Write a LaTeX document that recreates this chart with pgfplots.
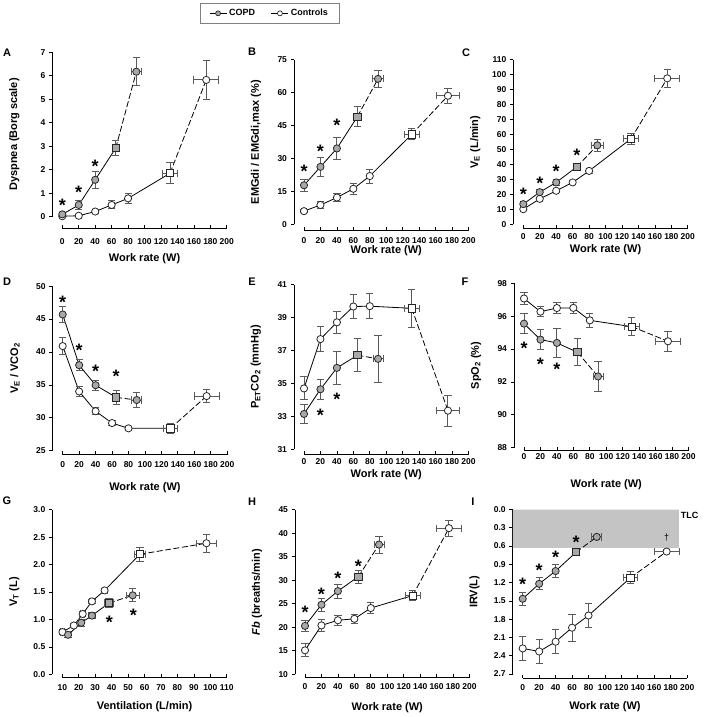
\documentclass[border=0pt]{standalone}
\usepackage{pgfplots}
\pgfplotsset{compat=1.18}
\usepackage{fontspec}
\setmainfont{Liberation Sans}
\definecolor{copd}{HTML}{A8A8A8}
\definecolor{errc}{HTML}{5A5A5A}
\definecolor{shade}{HTML}{C4C4C4}
\newcommand{\sub}[1]{\textsubscript{#1}}
\newcommand{\fs}[1]{\fontsize{#1}{#1}\selectfont}
\pgfplotsset{
  panel/.style={
    scale only axis, width=164.5pt, height=164.5pt, anchor=south west,
    axis x line=bottom, axis y line=left,
    axis line style={-, line width=0.75pt, black},
    every outer x axis line/.append style={-},
    every outer y axis line/.append style={-},
    xtick align=inside, ytick align=outside,
    major tick length=3.5pt,
    every tick/.style={line width=0.75pt, black},
    axis y line shift=10pt,
    tick label style={font=\bfseries\fs{8.5}},
    xticklabel style={inner sep=0pt, anchor=center},
    label style={font=\bfseries\fs{11}, inner sep=0pt},
    ylabel style={at={(axis description cs:-0.26,0.5)}, anchor=south},
    clip=false,
    xmin=0, xmax=200, xtick={0,20,...,200},
    xticklabels={0,20,40,60,80,100,120,140,160,180,200},
    xlabel={Work rate (W)},
  },
  xpos/.style n args={3}{axis x line shift=#1pt, xticklabel style={yshift=-#2pt},
     xlabel style={at={(axis description cs:0.5,0)}, anchor=center, yshift=-#3pt}},
  lineS/.style={black, line width=0.8pt, mark=none, forget plot},
  lineD/.style={black, line width=0.8pt, mark=none, dash pattern=on 6pt off 2.5pt, forget plot},
  pts/.style={only marks, mark=*, mark size=3.6pt, forget plot,
     mark options={draw=black!85, line width=0.8pt, fill=#1},
     error bars/x dir=both, error bars/x explicit, error bars/y dir=both, error bars/y explicit,
     error bars/error bar style={errc, line width=0.9pt},
     error bars/error mark options={rotate=90, errc, line width=0.9pt, mark size=3.6pt}},
  sqs/.style={pts=#1, mark=square*},
  stars/.style={draw=none, mark=none, forget plot, nodes near coords={*},
     every node near coord/.style={anchor=center, inner sep=0pt, font=\bfseries\fs{18}, yshift=-3.8pt, text=black}},
}
\newcommand{\grp}[4]{%
  \addplot[lineS] coordinates {#2 #3};
  \addplot[lineD] coordinates {#3 #4};
  \addplot[pts=#1] coordinates {#2 #4};
  \addplot[sqs=#1] coordinates {#3};
}
\begin{document}
\begin{tikzpicture}
\path[use as bounding box] (0pt,0pt) rectangle (706pt,717pt);
% ---------------- A
\begin{axis}[panel, at={(62.3pt,500.3pt)}, xpos={12}{12.5}{42},
  ymin=0, ymax=7, ytick={0,1,2,3,4,5,6,7}, yticklabels={0,1,2,3,4,5,6,7},
  ylabel={Dyspnea (Borg scale)}]
\grp{white}{(0,0.02)+-(0,0.03) (20,0.04)+-(0,0.04) (40,0.22)+-(0,0.08) (60,0.5)+-(0,0.17) (80,0.78)+-(0,0.22)}{(131,1.85)+-(9,0.45)}{(175,5.82)+-(15,0.85)}
\grp{copd}{(0,0.1)+-(0,0.05) (20,0.5)+-(0,0.2) (40,1.57)+-(0,0.37)}{(65,2.92)+-(4,0.33)}{(90,6.17)+-(6,0.6)}
\addplot[stars] coordinates {(0,0.64) (20,1.2) (40,2.32)};
\end{axis}
% ---------------- B
\begin{axis}[panel, at={(304pt,492.7pt)}, xpos={6}{10.4}{26.4},
  ymin=0, ymax=75, ytick={0,15,30,45,60,75}, yticklabels={0,15,30,45,60,75},
  ylabel={EMGdi / EMGdi,max (\%)},
  legend style={at={(-0.2097,1.345)}, anchor=north, legend columns=2, draw=gray, line width=0.6pt,
     font=\bfseries\fs{9}, inner xsep=9pt, inner ysep=4pt, /tikz/every even column/.append style={column sep=14pt}}]
\addlegendimage{black, line width=0.8pt, mark=*, mark size=2.5pt, mark options={draw=black!85, fill=copd, line width=0.7pt}}
\addlegendentry{COPD}
\addlegendimage{black, line width=0.8pt, mark=*, mark size=2.5pt, mark options={draw=black!85, fill=white, line width=0.7pt}}
\addlegendentry{Controls}
\grp{white}{(0,6)+-(0,0.8) (20,8.8)+-(0,1.5) (40,12.2)+-(0,1.8) (60,16.2)+-(0,2.5) (80,22)+-(0,3.2)}{(131,41)+-(9,2.5)}{(175,58.6)+-(14,3.5)}
\grp{copd}{(0,17.8)+-(0,2.6) (20,26.2)+-(0,4.2) (40,34.6)+-(0,4.9)}{(65,49.1)+-(4,4.7)}{(90,66.3)+-(7,3.7)}
\addplot[stars] coordinates {(0,26) (20,35) (40,46.8)};
\end{axis}
% ---------------- C
\begin{axis}[panel, at={(523.3pt,492.7pt)}, xpos={4}{8.4}{25},
  ymin=0, ymax=110, ytick={0,10,20,30,40,50,60,70,80,90,100,110}, yticklabels={0,10,20,30,40,50,60,70,80,90,100,110},
  ylabel={V\sub{E} (L/min)}]
\grp{white}{(0,10.1)+-(0,1) (20,17)+-(0,1) (40,22.4)+-(0,1.2) (60,28)+-(0,1.2) (80,35.7)+-(0,1.5)}{(131,57.2)+-(9,3.5)}{(175,97.6)+-(15,6)}
\grp{copd}{(0,13.5)+-(0,1.5) (20,21.5)+-(0,1.5) (40,28)+-(0,2)}{(65,38.4)+-(4,2.5)}{(90,52.8)+-(7,4)}
\addplot[stars] coordinates {(0,22.7) (20,29.9) (40,37.7) (65,48.5)};
\end{axis}
% ---------------- D
\begin{axis}[panel, at={(62.7pt,266.3pt)}, xpos={4}{10.3}{37.3},
  ymin=25, ymax=50, ytick={25,30,35,40,45,50}, yticklabels={25,30,35,40,45,50},
  ylabel={V\sub{E} / VCO\sub{2}}]
\grp{white}{(0,40.9)+-(0,1.3) (20,34)+-(0,0.8) (40,31)+-(0,0.5) (60,29.2)+-(0,0.4) (80,28.4)+-(0,0.3)}{(131,28.4)+-(9,0.8)}{(175,33.3)+-(15,1.0)}
\grp{copd}{(0,45.7)+-(0,1.2) (20,38)+-(0,0.8) (40,34.95)+-(0,0.8)}{(65,33.1)+-(4,1.0)}{(90,32.7)+-(6,1.2)}
\addplot[stars] coordinates {(0,48.2) (20,40.9) (40,37.7) (65,36.9)};
\end{axis}
% ---------------- E
\begin{axis}[panel, at={(304pt,267.7pt)}, xpos={5}{7.4}{25},
  ymin=31, ymax=41, ytick={31,33,35,37,39,41}, yticklabels={31,33,35,37,39,41},
  ylabel={P\sub{ET}CO\sub{2} (mmHg)}]
\grp{white}{(0,34.7)+-(0,0.7) (20,37.7)+-(0,0.75) (40,38.72)+-(0,0.68) (60,39.68)+-(0,0.75) (80,39.7)+-(0,0.75)}{(131,39.57)+-(9,1.15)}{(175,33.35)+-(14,0.95)}
\grp{copd}{(0,33.15)+-(0,0.58) (20,34.65)+-(0,0.62) (40,35.95)+-(0,1.0)}{(65,36.72)+-(4,1.0)}{(90,36.5)+-(6,1.45)}
\addplot[stars] coordinates {(20,33.28) (40,34.3)};
\end{axis}
% ---------------- F
\begin{axis}[panel, at={(524pt,269.3pt)}, xpos={3}{6}{37.3},
  ymin=88, ymax=98, ytick={88,90,92,94,96,98}, yticklabels={88,90,92,94,96,98},
  ylabel={SpO\sub{2} (\%)}]
\grp{white}{(0,97.07)+-(0,0.35) (20,96.27)+-(0,0.3) (40,96.49)+-(0,0.35) (60,96.5)+-(0,0.35) (80,95.74)+-(0,0.45)}{(131,95.36)+-(9,0.55)}{(175,94.47)+-(15,0.62)}
\grp{copd}{(0,95.54)+-(0,0.6) (20,94.57)+-(0,0.62) (40,94.37)+-(0,0.9)}{(65,93.8)+-(4,0.82)}{(90,92.33)+-(6,0.9)}
\addplot[stars] coordinates {(0,94.27) (20,93.3) (40,93.0)};
\end{axis}
% ---------------- G
\begin{axis}[panel, at={(62.3pt,42.7pt)}, xpos={3}{10}{32.4},
  xmin=10, xmax=110, xtick={10,20,30,40,50,60,70,80,90,100,110}, xticklabels={10,20,30,40,50,60,70,80,90,100,110},
  xlabel={Ventilation (L/min)},
  ymin=0, ymax=3, ytick={0,0.5,1,1.5,2,2.5,3}, yticklabels={0.0,0.5,1.0,1.5,2.0,2.5,3.0},
  ylabel={V\sub{T} (L)}]
\grp{white}{(10.1,0.77)+-(1,0.04) (17,0.89)+-(1,0.04) (22.4,1.1)+-(1.2,0.04) (28,1.33)+-(1.2,0.04) (35.7,1.53)+-(1.5,0.04)}{(57.2,2.19)+-(3.5,0.13)}{(97.6,2.39)+-(6,0.16)}
\grp{copd}{(13.5,0.72)+-(1.5,0.05) (21.5,0.94)+-(1.5,0.06) (28,1.07)+-(2,0.05)}{(38.4,1.3)+-(2.5,0.08)}{(52.8,1.44)+-(4,0.12)}
\addplot[stars] coordinates {(38.6,1.02) (53.2,1.15)};
\end{axis}
% ---------------- H
\begin{axis}[panel, at={(305pt,42.7pt)}, xpos={3}{9.4}{33},
  ymin=10, ymax=45, ytick={10,15,20,25,30,35,40,45}, yticklabels={10,15,20,25,30,35,40,45},
  ylabel={\textit{Fb} (breaths/min)}]
\grp{white}{(0,15.1)+-(0,1.4) (20,20.4)+-(0,1.2) (40,21.5)+-(0,1.1) (60,21.8)+-(0,1.0) (80,24.1)+-(0,1.1)}{(131,26.76)+-(9,1.1)}{(175,41.1)+-(15,1.7)}
\grp{copd}{(0,20.3)+-(0,1.2) (20,24.8)+-(0,1.4) (40,27.7)+-(0,1.5)}{(65,30.8)+-(4,1.4)}{(90,37.6)+-(6,1.8)}
\addplot[stars] coordinates {(0,24) (20,27.8) (40,31.2) (65,33.8)};
\end{axis}
% ---------------- I
\begin{axis}[panel, at={(522.7pt,43pt)}, xpos={4}{9.7}{32.7}, y dir=reverse,
  ymin=0, ymax=2.7, ytick={0,0.3,0.6,0.9,1.2,1.5,1.8,2.1,2.4,2.7}, yticklabels={0.0,0.3,0.6,0.9,1.2,1.5,1.8,2.1,2.4,2.7},
  ylabel={IRV(L)}]
\addplot[fill=shade, draw=none, forget plot] coordinates {(-12,0) (190,0) (190,0.63) (-12,0.63) (-12,0)};
\grp{white}{(0,2.28)+-(0,0.2) (20,2.33)+-(0,0.19) (40,2.17)+-(0,0.2) (60,1.94)+-(0,0.22) (80,1.74)+-(0,0.2)}{(131,1.12)+-(9,0.1)}{(175,0.69)+-(15,0.03)}
\grp{copd}{(0,1.465)+-(0,0.11) (20,1.22)+-(0,0.1) (40,1.01)+-(0,0.11)}{(65,0.70)+-(4,0.03)}{(90,0.45)+-(6,0.02)}
\addplot[stars] coordinates {(0,1.16) (20,0.93) (40,0.72) (65,0.48)};
\addplot[draw=none, mark=none, forget plot, nodes near coords={\dag}, every node near coord/.style={anchor=center, inner sep=0pt, font=\fs{9}}] coordinates {(175,0.46)};
\node[anchor=west, inner sep=0pt, font=\bfseries\fs{9}] at (axis cs:192,0.1) {TLC};
\end{axis}
% panel letters
\foreach \L/\x/\y in {A/7/53, B/252/52, C/466/52.5, D/7/281.3, E/252/281.3, F/465/282, G/7/501, H/252/502, I/473/502}{
  \node[font=\bfseries\fs{11}, inner sep=0pt] at (\x pt, 717pt-\y pt) {\L};
}
\end{tikzpicture}
\end{document}
